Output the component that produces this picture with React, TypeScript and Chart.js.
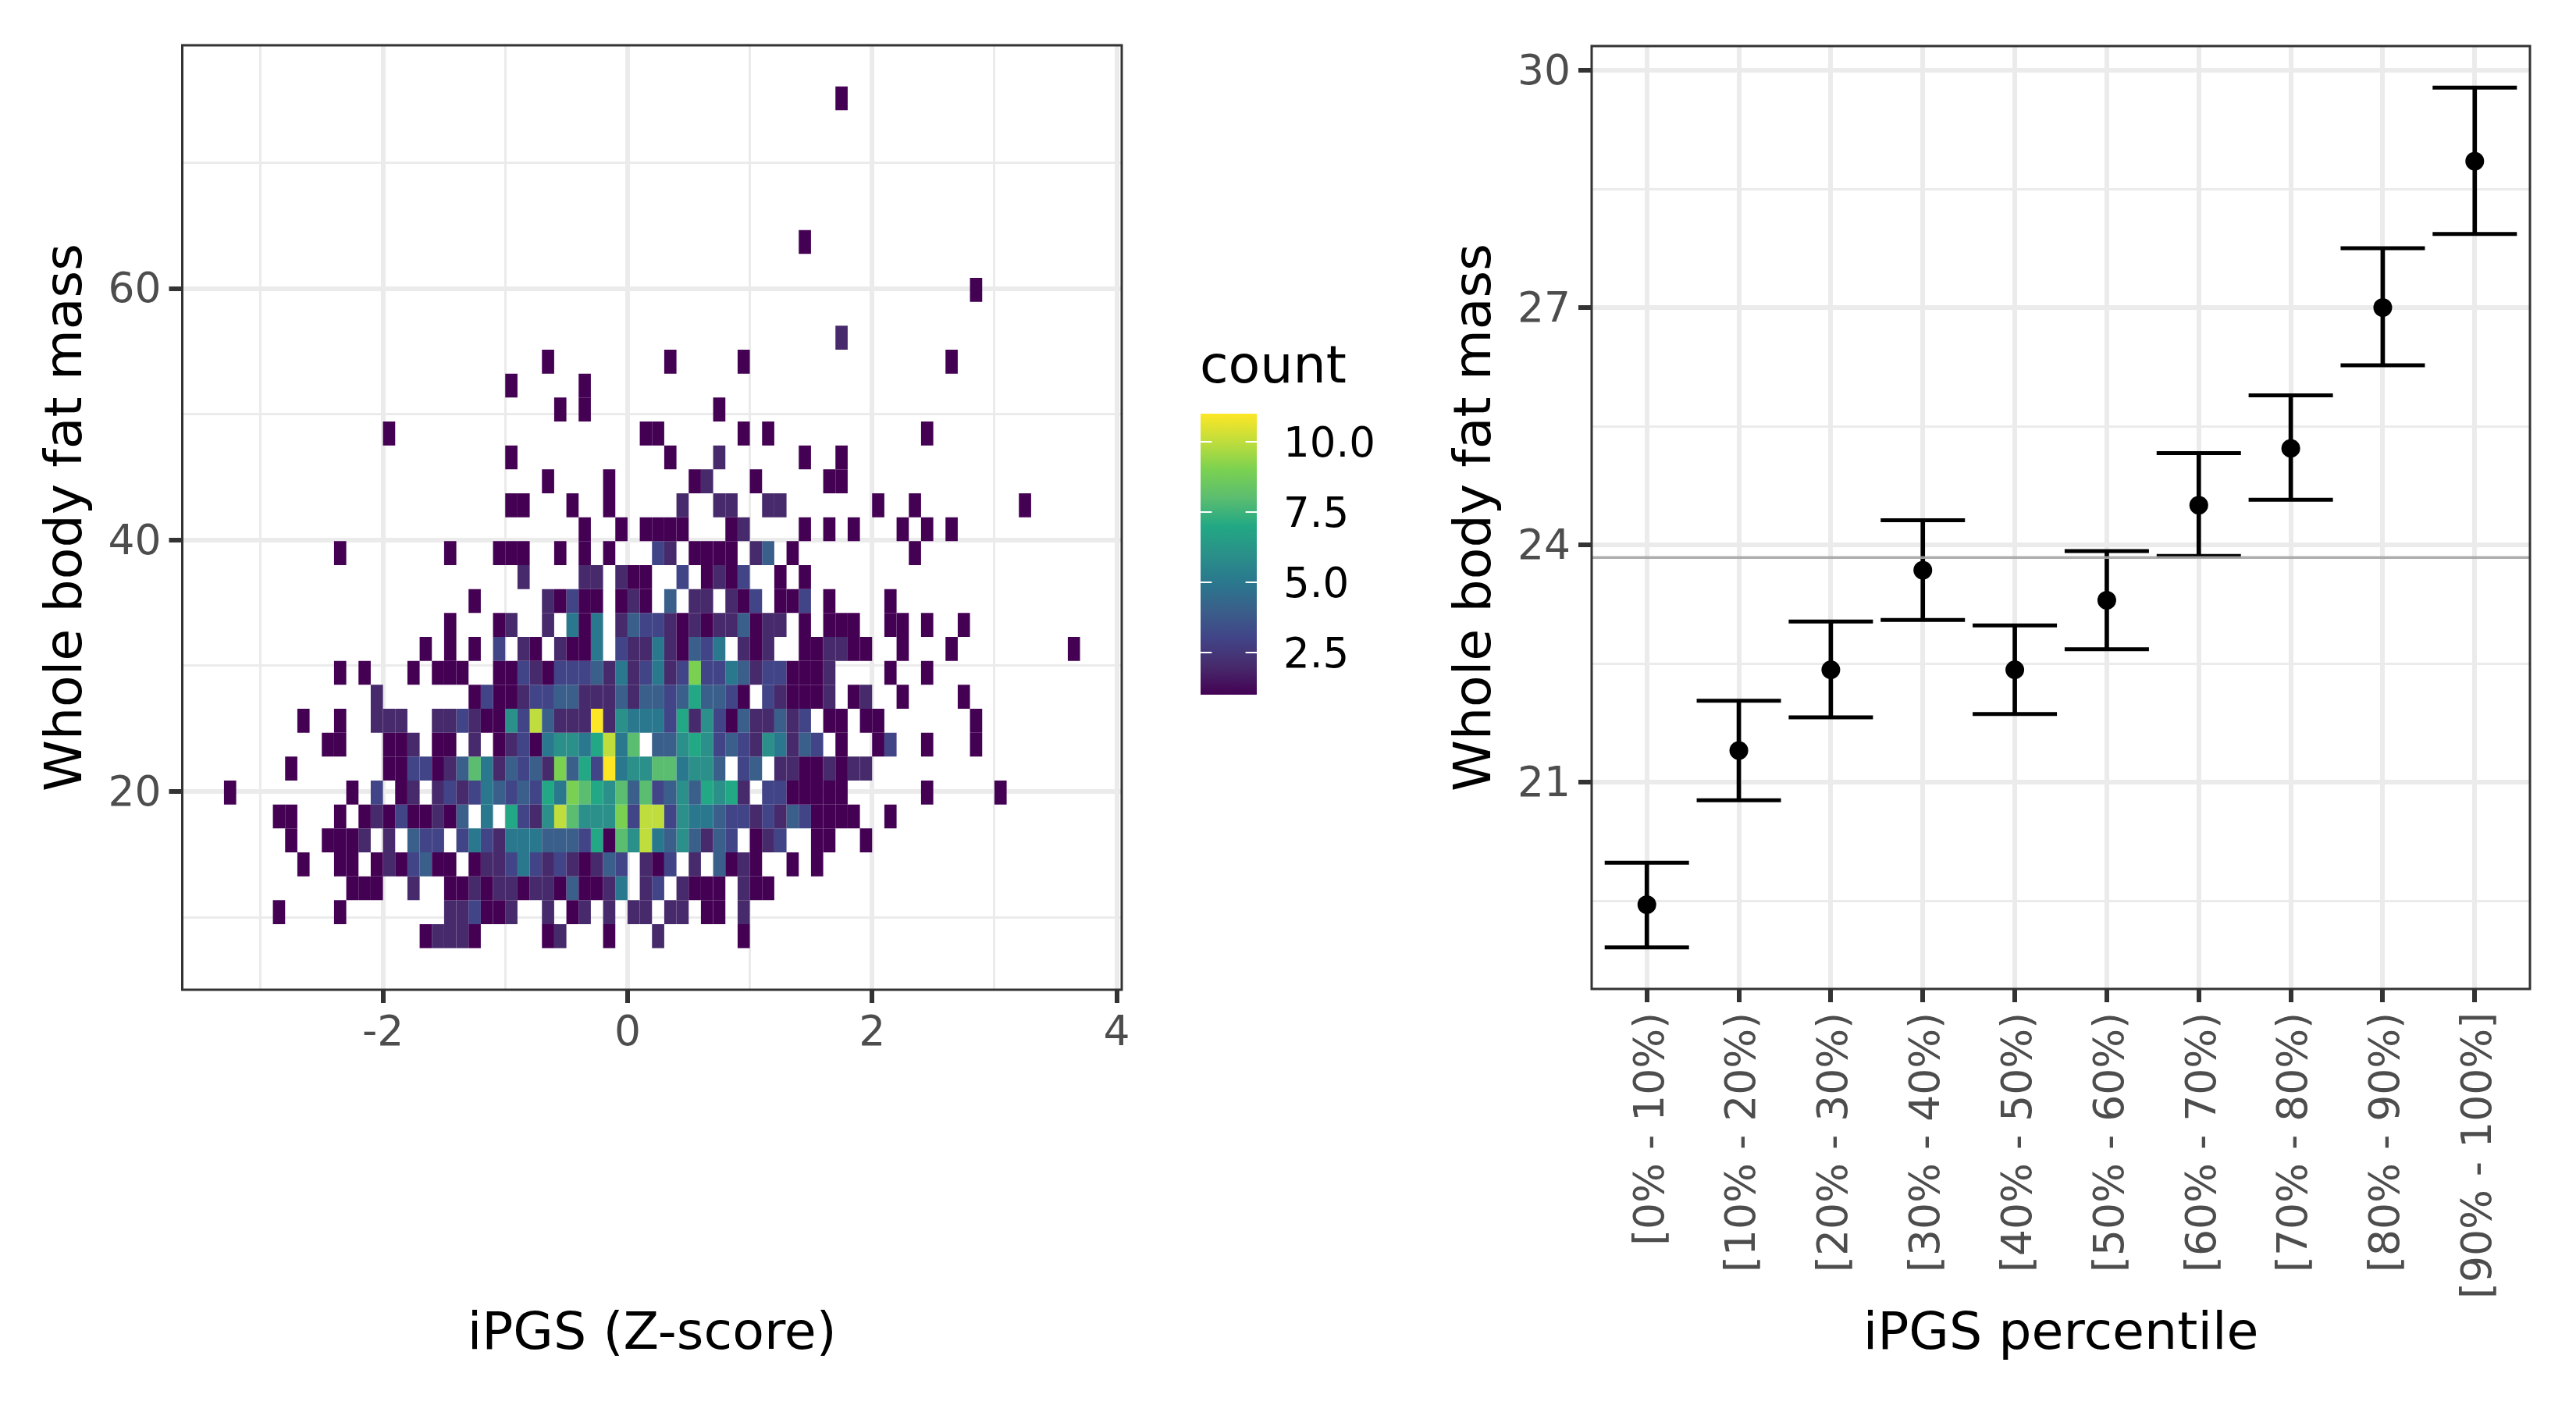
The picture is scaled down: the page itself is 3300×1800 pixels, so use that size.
import React, { useEffect, useRef } from "react";
import { Chart, registerables } from "chart.js";

Chart.register(...registerables);

// ---- Left panel: 2-D histogram (column index -> count, one table per row of bins)
const zBinStart = -3.3;
const zBinWidth = 0.1;
const fatBinStart = 7.54;
const fatBinHeight = 1.9037;

const row00 = { 16: 1, 17: 2, 18: 2, 19: 2, 20: 1, 26: 1, 27: 2, 31: 1, 35: 2, 42: 1 };
const row01 = { 4: 1, 9: 1, 18: 2, 19: 2, 20: 3, 21: 1, 22: 1, 23: 2, 26: 2, 28: 1, 29: 2, 31: 2, 33: 2, 34: 2, 36: 2, 37: 2, 39: 1, 40: 1, 42: 2 };
const row02 = { 10: 1, 11: 1, 12: 1, 15: 2, 18: 1, 19: 1, 20: 2, 21: 1, 22: 2, 23: 2, 24: 1, 25: 2, 26: 2, 27: 1, 28: 4, 29: 1, 30: 1, 31: 2, 32: 5, 34: 2, 35: 3, 37: 2, 38: 1, 39: 1, 40: 1, 42: 2, 43: 1, 44: 1 };
const row03 = { 6: 1, 9: 1, 10: 1, 12: 1, 13: 2, 14: 1, 15: 3, 16: 4, 17: 1, 18: 1, 20: 1, 21: 2, 22: 2, 23: 3, 24: 5, 25: 3, 26: 2, 27: 3, 28: 2, 29: 1, 30: 2, 31: 4, 32: 3, 34: 2, 35: 1, 36: 3, 38: 2, 40: 4, 41: 1, 42: 2, 43: 1, 46: 1, 48: 1 };
const row04 = { 5: 1, 8: 1, 9: 1, 10: 1, 11: 2, 13: 2, 15: 4, 16: 3, 17: 3, 19: 3, 20: 5, 21: 3, 22: 2, 23: 5, 24: 5, 25: 5, 26: 4, 27: 4, 28: 4, 29: 3, 30: 7, 31: 1, 32: 8, 33: 6, 34: 10, 35: 5, 36: 4, 37: 6, 38: 4, 39: 2, 40: 4, 41: 3, 43: 1, 44: 2, 45: 3, 48: 1, 49: 1, 52: 1 };
const row05 = { 4: 1, 5: 1, 9: 1, 11: 1, 12: 2, 13: 1, 14: 3, 15: 1, 16: 1, 17: 2, 18: 1, 19: 4, 21: 5, 23: 7, 24: 3, 25: 2, 26: 6, 27: 10, 28: 8, 29: 6, 30: 6, 31: 6, 32: 9, 33: 3, 34: 10, 35: 10, 36: 3, 37: 6, 38: 5, 39: 5, 40: 4, 41: 3, 42: 3, 43: 2, 44: 3, 45: 2, 46: 4, 47: 3, 48: 1, 49: 1, 50: 1, 51: 1, 54: 1 };
const row06 = { 0: 1, 10: 1, 12: 3, 14: 1, 15: 2, 17: 2, 18: 3, 19: 2, 20: 3, 21: 5, 22: 4, 23: 3, 24: 4, 25: 3, 26: 7, 27: 5, 28: 9, 29: 8, 30: 7, 31: 6, 32: 8, 33: 4, 34: 8, 35: 3, 36: 4, 37: 6, 38: 4, 39: 7, 40: 6, 41: 7, 42: 2, 44: 3, 45: 3, 46: 1, 47: 1, 48: 1, 49: 1, 50: 1, 57: 1, 63: 1 };
const row07 = { 5: 1, 13: 1, 14: 1, 15: 3, 16: 3, 17: 1, 18: 2, 19: 4, 20: 8, 21: 5, 22: 2, 23: 4, 24: 3, 25: 4, 26: 2, 27: 9, 28: 4, 29: 7, 30: 3, 31: 11, 32: 5, 33: 6, 34: 6, 35: 8, 36: 8, 37: 5, 38: 6, 39: 6, 40: 4, 42: 3, 43: 4, 45: 2, 46: 2, 47: 1, 48: 1, 49: 2, 50: 1, 51: 2, 52: 2 };
const row08 = { 8: 1, 9: 1, 13: 1, 14: 1, 15: 2, 17: 1, 18: 1, 20: 2, 22: 1, 23: 2, 24: 3, 25: 1, 26: 5, 27: 6, 28: 6, 29: 5, 30: 7, 31: 10, 32: 5, 33: 8, 35: 4, 36: 4, 37: 6, 38: 7, 39: 6, 40: 3, 41: 4, 42: 3, 43: 2, 44: 6, 45: 5, 46: 2, 47: 4, 48: 3, 50: 1, 53: 1, 54: 3, 57: 1, 61: 1 };
const row09 = { 6: 1, 9: 1, 12: 2, 13: 2, 14: 2, 17: 2, 18: 2, 19: 3, 20: 2, 21: 1, 22: 1, 23: 6, 24: 3, 25: 10, 26: 4, 27: 2, 28: 2, 29: 2, 30: 11, 31: 2, 32: 6, 33: 5, 34: 5, 35: 5, 36: 3, 37: 7, 38: 2, 39: 6, 40: 3, 41: 1, 42: 4, 43: 2, 44: 2, 45: 4, 46: 2, 47: 3, 49: 1, 50: 1, 52: 1, 53: 1, 61: 1 };
const row10 = { 12: 2, 20: 1, 21: 3, 22: 1, 23: 1, 24: 2, 25: 3, 26: 3, 27: 4, 28: 4, 29: 2, 30: 2, 31: 2, 32: 4, 33: 2, 34: 4, 35: 4, 36: 3, 37: 4, 38: 7, 39: 4, 40: 4, 41: 3, 42: 1, 44: 3, 45: 2, 46: 1, 47: 1, 48: 1, 49: 2, 51: 1, 52: 2, 55: 1, 60: 1 };
const row11 = { 9: 1, 11: 1, 15: 1, 17: 1, 18: 1, 19: 1, 22: 1, 23: 1, 24: 3, 25: 2, 26: 1, 27: 3, 28: 3, 29: 3, 30: 4, 31: 2, 32: 5, 33: 2, 34: 3, 35: 5, 36: 2, 37: 3, 38: 9, 39: 3, 40: 3, 41: 5, 42: 4, 43: 2, 44: 3, 45: 3, 46: 1, 47: 1, 48: 1, 49: 2, 54: 1, 57: 1 };
const row12 = { 16: 1, 18: 1, 20: 1, 22: 3, 24: 2, 25: 1, 27: 2, 28: 1, 29: 1, 30: 5, 32: 3, 33: 2, 34: 2, 35: 5, 36: 2, 37: 1, 38: 4, 39: 3, 40: 5, 42: 2, 43: 1, 44: 2, 47: 1, 48: 1, 49: 2, 50: 2, 51: 1, 52: 1, 55: 1, 59: 1, 69: 1 };
const row13 = { 18: 1, 22: 1, 23: 2, 26: 2, 28: 5, 29: 1, 30: 5, 32: 2, 33: 4, 34: 3, 35: 3, 36: 2, 37: 1, 38: 2, 39: 1, 40: 2, 41: 2, 42: 4, 43: 1, 44: 2, 45: 2, 47: 1, 49: 1, 50: 1, 51: 1, 54: 1, 55: 1, 57: 1, 60: 1 };
const row14 = { 20: 1, 26: 2, 27: 1, 28: 3, 29: 1, 30: 1, 32: 1, 33: 2, 34: 1, 36: 4, 38: 2, 39: 2, 41: 2, 42: 1, 43: 3, 45: 1, 46: 1, 47: 3, 49: 1, 54: 1 };
const row15 = { 24: 2, 29: 2, 30: 2, 32: 2, 33: 1, 34: 1, 37: 3, 39: 1, 40: 2, 41: 1, 42: 3, 45: 1, 47: 1 };
const row16 = { 9: 1, 18: 1, 22: 1, 23: 1, 24: 1, 27: 1, 29: 1, 31: 1, 35: 3, 36: 2, 38: 1, 39: 1, 40: 1, 41: 1, 43: 2, 44: 4, 46: 1, 56: 1 };
const row17 = { 29: 1, 32: 1, 34: 1, 35: 1, 36: 1, 37: 1, 41: 1, 42: 2, 47: 1, 49: 1, 51: 1, 55: 1, 57: 1, 59: 1 };
const row18 = { 23: 1, 24: 1, 28: 1, 31: 1, 37: 2, 40: 2, 41: 2, 44: 2, 45: 2, 53: 1, 56: 1, 65: 1 };
const row19 = { 26: 1, 31: 1, 38: 1, 39: 2, 43: 1, 49: 1, 50: 1 };
const row20 = { 23: 1, 36: 1, 40: 2, 47: 1, 50: 1 };
const row21 = { 13: 1, 34: 1, 35: 1, 42: 1, 44: 1, 57: 1 };
const row22 = { 27: 1, 29: 1, 40: 1 };
const row23 = { 23: 1, 29: 1 };
const row24 = { 26: 1, 36: 1, 42: 1, 59: 1 };
const row25 = { 50: 2 };
const row26 = {};
const row27 = { 61: 1 };
const row28 = {};
const row29 = { 47: 1 };
const row30 = {};
const row31 = {};
const row32 = {};
const row33 = {};
const row34 = {};
const row35 = { 50: 1 };
const fatRows: Record<number, number>[] = [
  row00, row01, row02, row03, row04, row05, row06, row07, row08, row09,
  row10, row11, row12, row13, row14, row15, row16, row17, row18, row19,
  row20, row21, row22, row23, row24, row25, row26, row27, row28, row29,
  row30, row31, row32, row33, row34, row35,
];

const countLevels = [1, 2, 3, 4, 5, 6, 7, 8, 9, 10, 11];
const countColors = [
  "#440154", "#472a6b", "#414487", "#3a5f8a", "#2a788e", "#2a9089",
  "#22a884", "#5bbd70", "#7ad151", "#bfdd3c", "#fde725",
];
const legendTicks = [2.5, 5, 7.5, 10];
const legendLabels = ["2.5", "5.0", "7.5", "10.0"];

const zMajorTicks = [-2, 0, 2, 4];
const zMinorTicks = [-3, -1, 1, 3];
const fatMajorTicks = [20, 40, 60];
const fatMinorTicks = [10, 30, 50, 70];

// ---- Right panel: means with confidence intervals
const percentileLabels = [
  "[0% - 10%)", "[10% - 20%)", "[20% - 30%)", "[30% - 40%)", "[40% - 50%)",
  "[50% - 60%)", "[60% - 70%)", "[70% - 80%)", "[80% - 90%)", "[90% - 100%]",
];
const percentileMeans = [19.45, 21.4, 22.42, 23.68, 22.42, 23.3, 24.5, 25.22, 27.0, 28.85];
const percentileLower = [18.91, 20.77, 21.82, 23.05, 21.86, 22.68, 23.86, 24.57, 26.27, 27.93];
const percentileUpper = [19.98, 22.03, 23.03, 24.31, 22.98, 23.92, 25.16, 25.89, 27.75, 29.78];
const overallMean = 23.84;
const rightMajorTicks = [21, 24, 27, 30];
const rightMinorTicks = [19.5, 22.5, 25.5, 28.5];

const FONT = "'DejaVu Sans'";
const TICK_SIZE = 53.5;
const LEGEND_SIZE = 53;
const TITLE_SIZE = 66.6;
const INK = "#333333";
const GRID = "#ebebeb";
const TICK_TEXT = "#4d4d4d";

const panelBorder = {
  id: "panelBorder",
  afterDatasetsDraw(chart: any) {
    const { ctx, chartArea: a } = chart;
    ctx.save();
    ctx.strokeStyle = INK;
    ctx.lineWidth = 3;
    ctx.strokeRect(a.left, a.top, a.right - a.left, a.bottom - a.top);
    ctx.restore();
  },
};

const colorbar = {
  id: "colorbar",
  afterDraw(chart: any) {
    const { ctx } = chart;
    const left = 1538, right = 1610, top = 530, bottom = 890;
    const low = countLevels[0];
    const high = countLevels[countLevels.length - 1];
    const yFor = (v: number) => bottom - ((v - low) / (high - low)) * (bottom - top);
    ctx.save();
    const g = ctx.createLinearGradient(0, bottom, 0, top);
    countColors.forEach((c, i) => g.addColorStop(i / (countColors.length - 1), c));
    ctx.fillStyle = g;
    ctx.fillRect(left, top, right - left, bottom - top);
    ctx.strokeStyle = "#ffffff";
    ctx.lineWidth = 2;
    ctx.fillStyle = "#000000";
    ctx.font = `${LEGEND_SIZE}px ${FONT}`;
    ctx.textAlign = "left";
    ctx.textBaseline = "middle";
    legendTicks.forEach((t, i) => {
      const y = yFor(t);
      ctx.beginPath();
      ctx.moveTo(left, y);
      ctx.lineTo(left + 14.4, y);
      ctx.moveTo(right - 14.4, y);
      ctx.lineTo(right, y);
      ctx.stroke();
      ctx.fillText(legendLabels[i], 1644, y + 5);
    });
    ctx.font = `${TITLE_SIZE}px ${FONT}`;
    ctx.textBaseline = "alphabetic";
    ctx.fillText("count", 1537, 490);
    ctx.restore();
  },
};

function gridOptions(majors: number[]) {
  return {
    offset: false,
    color: GRID,
    lineWidth: (c: any) => (c.tick && majors.includes(c.tick.value) ? 6 : 3),
    tickColor: INK,
    tickWidth: (c: any) => (c.tick && majors.includes(c.tick.value) ? 6 : 0),
    tickLength: 17,
    drawTicks: true,
  };
}

function heatDatasets() {
  return countLevels.map((level, k) => {
    const data: { x: number; y: [number, number] }[] = [];
    fatRows.forEach((row, j) => {
      Object.keys(row).forEach((key) => {
        const col = Number(key);
        if (row[col] === level) {
          data.push({
            x: zBinStart + zBinWidth * (col + 0.5),
            y: [fatBinStart + fatBinHeight * j, fatBinStart + fatBinHeight * (j + 1)],
          });
        }
      });
    });
    return {
      type: "bar" as const,
      label: String(level),
      data,
      backgroundColor: countColors[k],
      borderWidth: 0,
      inflateAmount: 0,
      grouped: false,
      barPercentage: 1,
      categoryPercentage: 1,
    };
  });
}

export default function App() {
  const leftRef = useRef<HTMLCanvasElement>(null);
  const rightRef = useRef<HTMLCanvasElement>(null);

  useEffect(() => {
    const left = new Chart(leftRef.current!, {
      type: "bar",
      data: { datasets: heatDatasets() as any },
      plugins: [panelBorder, colorbar],
      options: {
        animation: false,
        responsive: false,
        devicePixelRatio: 1,
        layout: { padding: { top: 58, right: 363, left: 0, bottom: 0 } },
        plugins: { legend: { display: false }, tooltip: { enabled: false }, title: { display: false } },
        scales: {
          x: {
            type: "linear",
            offset: false,
            min: -3.641,
            max: 4.041,
            afterFit: (s: any) => { s.height = 532; },
            afterBuildTicks: (s: any) => {
              s.ticks = [...zMinorTicks, ...zMajorTicks].sort((a, b) => a - b).map((value) => ({ value }));
            },
            grid: gridOptions(zMajorTicks),
            border: { display: false },
            ticks: {
              autoSkip: false,
              maxRotation: 0,
              minRotation: 0,
              padding: 13,
              color: TICK_TEXT,
              font: { family: FONT, size: TICK_SIZE, lineHeight: 1 },
              callback: (v: any) => (zMajorTicks.includes(v) ? String(v) : ""),
            },
            title: {
              display: true,
              text: "iPGS (Z-score)",
              color: "#000000",
              font: { family: FONT, size: TITLE_SIZE, lineHeight: 1 },
              padding: { top: 0, bottom: 56 },
            },
          },
          y: {
            type: "linear",
            min: 4.23,
            max: 79.34,
            afterFit: (s: any) => { s.width = 233.5; },
            afterBuildTicks: (s: any) => {
              s.ticks = [...fatMinorTicks, ...fatMajorTicks].sort((a, b) => a - b).map((value) => ({ value }));
            },
            grid: gridOptions(fatMajorTicks),
            border: { display: false },
            ticks: {
              autoSkip: false,
              padding: 10,
              labelOffset: 4,
              color: TICK_TEXT,
              font: { family: FONT, size: TICK_SIZE, lineHeight: 1 },
              callback: (v: any) => (fatMajorTicks.includes(v) ? String(v) : ""),
            },
            title: {
              display: true,
              text: "Whole body fat mass",
              color: "#000000",
              font: { family: FONT, size: TITLE_SIZE, lineHeight: 1 },
              padding: { top: 53, bottom: 0 },
            },
          },
        },
      } as any,
    });

    const positions = percentileLabels.map((_, i) => i + 1);
    const right = new Chart(rightRef.current!, {
      type: "bar",
      data: {
        datasets: [
          {
            type: "line",
            label: "overall",
            data: [{ x: 0.4, y: overallMean }, { x: 10.6, y: overallMean }],
            borderColor: "rgba(165,165,165,0.9)",
            borderWidth: 3.5,
            pointRadius: 0,
            order: 0,
          },
          {
            type: "scatter",
            label: "mean",
            data: positions.map((x, i) => ({ x, y: percentileMeans[i] })),
            backgroundColor: "#000000",
            borderColor: "#000000",
            pointRadius: 12,
            pointBorderWidth: 0,
            order: 1,
          },
          {
            type: "scatter",
            label: "caps",
            data: positions.flatMap((x, i) => [
              { x, y: percentileLower[i] },
              { x, y: percentileUpper[i] },
            ]),
            pointStyle: "line",
            pointRadius: 54,
            pointBorderWidth: 5,
            borderColor: "#000000",
            backgroundColor: "#000000",
            order: 2,
          },
          {
            type: "bar",
            label: "interval",
            data: positions.map((x, i) => ({ x, y: [percentileLower[i], percentileUpper[i]] })),
            backgroundColor: "#000000",
            barThickness: 5,
            grouped: false,
            order: 3,
          },
        ],
      },
      plugins: [panelBorder],
      options: {
        animation: false,
        responsive: false,
        devicePixelRatio: 1,
        layout: { padding: { top: 58, right: 40.4, left: 0, bottom: 0 } },
        plugins: { legend: { display: false }, tooltip: { enabled: false }, title: { display: false } },
        scales: {
          x: {
            type: "linear",
            offset: false,
            min: 0.4,
            max: 10.6,
            afterFit: (s: any) => { s.height = 533; },
            afterBuildTicks: (s: any) => {
              s.ticks = positions.map((value) => ({ value }));
            },
            grid: gridOptions(positions),
            border: { display: false },
            ticks: {
              autoSkip: false,
              maxRotation: 90,
              minRotation: 90,
              padding: 13,
              labelOffset: 7,
              color: TICK_TEXT,
              font: { family: FONT, size: TICK_SIZE, lineHeight: 1 },
              callback: (v: any) => percentileLabels[v - 1] ?? "",
            },
            title: {
              display: true,
              text: "iPGS percentile",
              color: "#000000",
              font: { family: FONT, size: TITLE_SIZE, lineHeight: 1 },
              padding: { top: 0, bottom: 56 },
            },
          },
          y: {
            type: "linear",
            min: 18.385,
            max: 30.306,
            afterFit: (s: any) => { s.width = 239; },
            afterBuildTicks: (s: any) => {
              s.ticks = [...rightMinorTicks, ...rightMajorTicks].sort((a, b) => a - b).map((value) => ({ value }));
            },
            grid: gridOptions(rightMajorTicks),
            border: { display: false },
            ticks: {
              autoSkip: false,
              padding: 10,
              labelOffset: 4,
              color: TICK_TEXT,
              font: { family: FONT, size: TICK_SIZE, lineHeight: 1 },
              callback: (v: any) => (rightMajorTicks.includes(v) ? String(v) : ""),
            },
            title: {
              display: true,
              text: "Whole body fat mass",
              color: "#000000",
              font: { family: FONT, size: TITLE_SIZE, lineHeight: 1 },
              padding: { top: 58, bottom: 0 },
            },
          },
        },
      } as any,
    });

    return () => {
      left.destroy();
      right.destroy();
    };
  }, []);

  return (
    <div style={{ position: "absolute", left: 0, top: 0, width: 3300, height: 1800, background: "#ffffff", overflow: "hidden" }}>
      <canvas ref={leftRef} width={1800} height={1800} style={{ position: "absolute", left: 0, top: 0 }} />
      <canvas ref={rightRef} width={1500} height={1800} style={{ position: "absolute", left: 1800, top: 0 }} />
    </div>
  );
}
